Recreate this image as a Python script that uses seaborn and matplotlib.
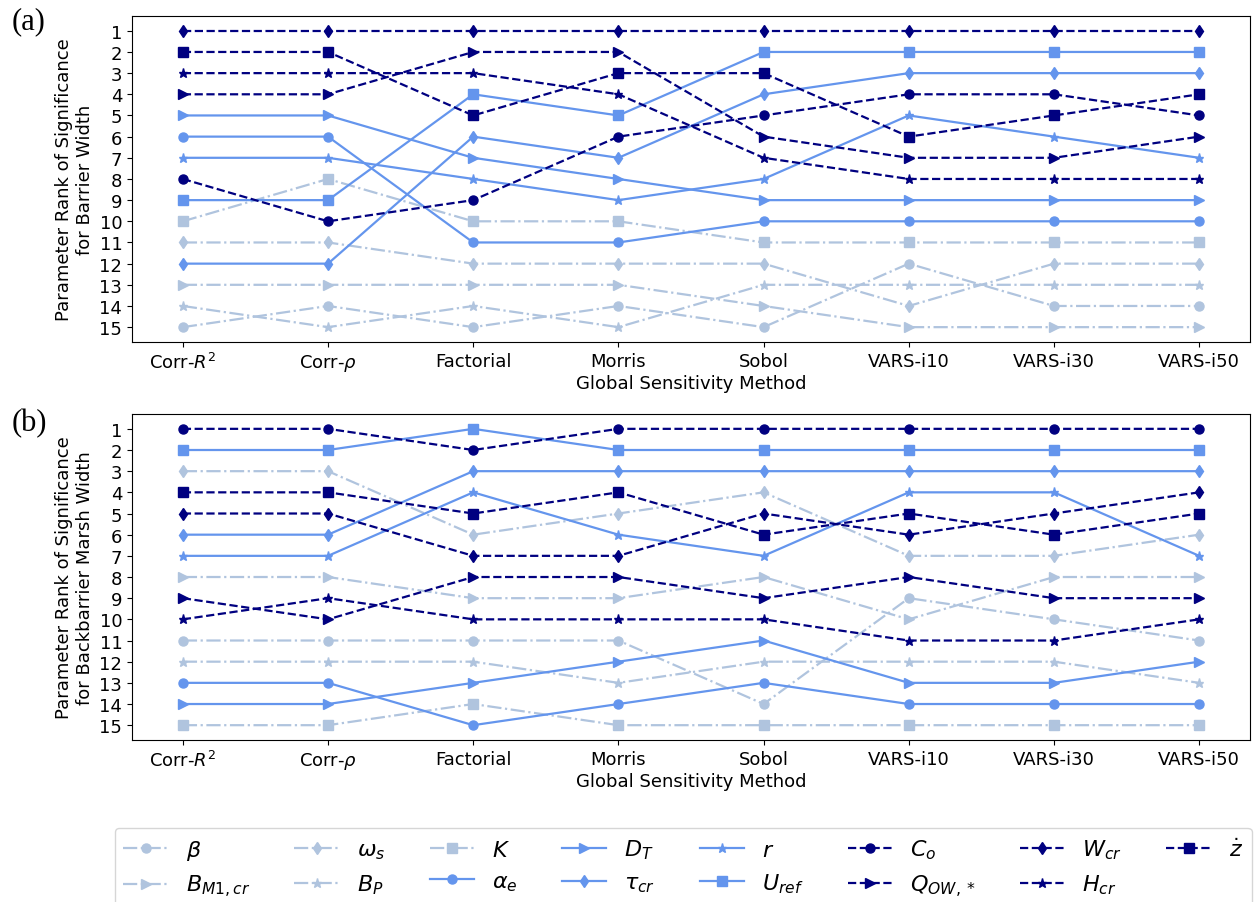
import matplotlib
matplotlib.use("Agg")
import matplotlib.pyplot as plt
import pandas as pd
import seaborn as sns

# Global sensitivity analysis methods (x axis)
methods = ["Corr-$R^2$", "Corr-$\\rho$", "Factorial", "Morris", "Sobol",
           "VARS-i10", "VARS-i30", "VARS-i50"]

# Model parameters, in legend order
params = ["beta", "B_M1cr", "omega_s", "B_P", "K", "alpha_e", "D_T", "tau_cr",
          "r", "U_ref", "C_o", "Q_OW", "W_cr", "H_cr", "z_dot"]
param_labels = [r"$\beta$", r"$B_{M1,cr}$", r"$\omega_s$", r"$B_P$", r"$K$",
                r"$\alpha_e$", r"$D_T$", r"$\tau_{cr}$", r"$r$", r"$U_{ref}$",
                r"$C_o$", r"$Q_{OW,*}$", r"$W_{cr}$", r"$H_{cr}$", r"$\dot{z}$"]

# Rank of significance for barrier width, one row per parameter
rank_barrier = [
    [15, 14, 15, 14, 15, 12, 14, 14],   # beta
    [13, 13, 13, 13, 14, 15, 15, 15],   # B_M1,cr
    [11, 11, 12, 12, 12, 14, 12, 12],   # omega_s
    [14, 15, 14, 15, 13, 13, 13, 13],   # B_P
    [10, 8, 10, 10, 11, 11, 11, 11],    # K
    [6, 6, 11, 11, 10, 10, 10, 10],     # alpha_e
    [5, 5, 7, 8, 9, 9, 9, 9],           # D_T
    [12, 12, 6, 7, 4, 3, 3, 3],         # tau_cr
    [7, 7, 8, 9, 8, 5, 6, 7],           # r
    [9, 9, 4, 5, 2, 2, 2, 2],           # U_ref
    [8, 10, 9, 6, 5, 4, 4, 5],          # C_o
    [4, 4, 2, 2, 6, 7, 7, 6],           # Q_OW,*
    [1, 1, 1, 1, 1, 1, 1, 1],           # W_cr
    [3, 3, 3, 4, 7, 8, 8, 8],           # H_cr
    [2, 2, 5, 3, 3, 6, 5, 4],           # z_dot
]

# Rank of significance for backbarrier marsh width, one row per parameter
rank_marsh = [
    [11, 11, 11, 11, 14, 9, 10, 11],    # beta
    [8, 8, 9, 9, 8, 10, 8, 8],          # B_M1,cr
    [3, 3, 6, 5, 4, 7, 7, 6],           # omega_s
    [12, 12, 12, 13, 12, 12, 12, 13],   # B_P
    [15, 15, 14, 15, 15, 15, 15, 15],   # K
    [13, 13, 15, 14, 13, 14, 14, 14],   # alpha_e
    [14, 14, 13, 12, 11, 13, 13, 12],   # D_T
    [6, 6, 3, 3, 3, 3, 3, 3],           # tau_cr
    [7, 7, 4, 6, 7, 4, 4, 7],           # r
    [2, 2, 1, 2, 2, 2, 2, 2],           # U_ref
    [1, 1, 2, 1, 1, 1, 1, 1],           # C_o
    [9, 10, 8, 8, 9, 8, 9, 9],          # Q_OW,*
    [5, 5, 7, 7, 5, 6, 5, 4],           # W_cr
    [10, 9, 10, 10, 10, 11, 11, 10],    # H_cr
    [4, 4, 5, 4, 6, 5, 6, 5],           # z_dot
]

# Line styling per parameter group
light, mid, dark = "lightsteelblue", "cornflowerblue", "navy"
colors = [light] * 5 + [mid] * 5 + [dark] * 5
linestyles = ["-."] * 5 + ["-"] * 5 + ["--"] * 5
markers = ["o", ">", "d", "*", "s",
           "o", ">", "d", "*", "s",
           "o", ">", "d", "*", "s"]


def long_table(ranks):
    rows = []
    for p, row in zip(params, ranks):
        for m, v in zip(methods, row):
            rows.append({"param": p, "method": m, "rank": v})
    return pd.DataFrame(rows)


fig = plt.figure(figsize=(12.56, 9.03), dpi=100)
ax_a = fig.add_axes([0.1051, 0.6202, 0.8901, 0.3610])
ax_b = fig.add_axes([0.1051, 0.1794, 0.8901, 0.3610])

panels = [
    (ax_a, long_table(rank_barrier),
     "Parameter Rank of Significance\nfor Barrier Width"),
    (ax_b, long_table(rank_marsh),
     "Parameter Rank of Significance\nfor Backbarrier Marsh Width"),
]

for ax, df, ylab in panels:
    for p, c, ls, mk in zip(params, colors, linestyles, markers):
        sub = df[df["param"] == p]
        sns.lineplot(data=sub, x="method", y="rank", ax=ax, color=c,
                     linestyle=ls, marker=mk, markersize=6.5,
                     markeredgecolor=c, markeredgewidth=1,
                     linewidth=1.6, legend=False, sort=False)
    ax.set_yticks(range(1, 16))
    ax.set_ylim(15.7, 0.3)
    ax.set_xlim(-0.35, len(methods) - 1 + 0.35)
    ax.set_xlabel("Global Sensitivity Method", fontsize=13, labelpad=1)
    ax.set_ylabel(ylab, fontsize=13, labelpad=4)
    ax.tick_params(labelsize=13)
    for s in ax.spines.values():
        s.set_visible(True)

fig.text(12 / 1256, 1 - 22 / 903, "(a)", fontsize=22,
         family="Liberation Serif", ha="left", va="center")
fig.text(12 / 1256, 1 - 424 / 903, "(b)", fontsize=22,
         family="Liberation Serif", ha="left", va="center")

handles = ax_b.get_lines()[:len(params)]
ax_b.legend(handles, param_labels, loc="upper center",
            bbox_to_anchor=(0.493, -0.27), ncol=8, fontsize=16,
            borderaxespad=0)

fig.savefig("out.png", dpi=100)
